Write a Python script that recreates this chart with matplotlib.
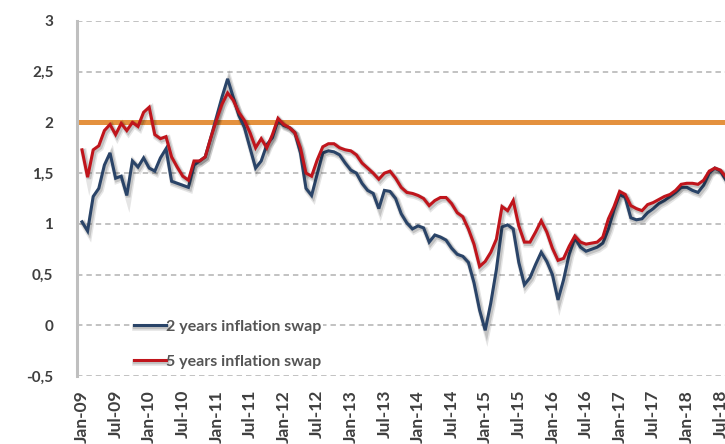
import matplotlib
matplotlib.use("Agg")
import matplotlib.pyplot as plt
import matplotlib.patheffects as pe
import pandas as pd

# Monthly observations, Jan-09 onwards
months = pd.date_range("2009-01-01", periods=116, freq="MS").strftime("%b-%y").tolist()

swap_2y = [
    1.02, 0.93, 1.27, 1.35, 1.58, 1.70, 1.45, 1.47, 1.28, 1.62,
    1.56, 1.65, 1.55, 1.52, 1.65, 1.74, 1.42, 1.40, 1.38, 1.36,
    1.58, 1.62, 1.66, 1.85, 2.05, 2.25, 2.43, 2.25, 2.07, 1.95,
    1.75, 1.55, 1.62, 1.78, 1.85, 2.02, 1.97, 1.95, 1.90, 1.70,
    1.35, 1.28, 1.49, 1.70, 1.72, 1.71, 1.68, 1.60, 1.53, 1.50,
    1.40, 1.33, 1.30, 1.15, 1.33, 1.32, 1.25, 1.10, 1.01, 0.95,
    0.98, 0.96, 0.82, 0.89, 0.87, 0.84, 0.76, 0.70, 0.68, 0.62,
    0.42, 0.15, -0.05, 0.22, 0.55, 0.97, 0.99, 0.95, 0.62, 0.40,
    0.47, 0.60, 0.72, 0.63, 0.50, 0.25, 0.45, 0.70, 0.86, 0.77,
    0.73, 0.75, 0.77, 0.81, 0.95, 1.14, 1.29, 1.26, 1.06, 1.04,
    1.05, 1.11, 1.15, 1.20, 1.23, 1.27, 1.31, 1.36, 1.36, 1.33,
    1.31, 1.38, 1.50, 1.55, 1.52, 1.43,
]

swap_5y = [
    1.73, 1.46, 1.73, 1.77, 1.92, 1.98, 1.88, 1.99, 1.92, 2.00,
    1.96, 2.10, 2.15, 1.88, 1.84, 1.86, 1.66, 1.56, 1.47, 1.43,
    1.62, 1.62, 1.66, 1.85, 2.02, 2.18, 2.29, 2.22, 2.10, 2.02,
    1.90, 1.75, 1.84, 1.75, 1.88, 2.04, 1.98, 1.95, 1.90, 1.75,
    1.50, 1.47, 1.63, 1.76, 1.79, 1.79, 1.75, 1.73, 1.72, 1.68,
    1.60, 1.55, 1.50, 1.44, 1.50, 1.52, 1.45, 1.36, 1.31, 1.30,
    1.28, 1.25, 1.18, 1.23, 1.26, 1.26, 1.20, 1.11, 1.07, 0.95,
    0.80, 0.58, 0.63, 0.72, 0.85, 1.17, 1.13, 1.23, 0.98, 0.82,
    0.82, 0.92, 1.03, 0.92, 0.76, 0.64, 0.66, 0.78, 0.88, 0.82,
    0.80, 0.81, 0.82, 0.87, 1.05, 1.17, 1.32, 1.29, 1.18, 1.15,
    1.13, 1.19, 1.21, 1.24, 1.27, 1.29, 1.33, 1.39, 1.40, 1.40,
    1.39, 1.43, 1.52, 1.55, 1.53, 1.46,
]

target = 2.0
y_ticks = [-0.5, 0, 0.5, 1, 1.5, 2, 2.5, 3]
y_tick_labels = ["-0,5", "0", "0,5", "1", "1,5", "2", "2,5", "3"]

series_names = ["2 years inflation swap", "5 years inflation swap"]
blue = "#2A4468"
red = "#C0151C"
orange = "#E4913E"
grey_text = "#3F3F3F"
families = ["Lato", "DejaVu Sans"]

fig = plt.figure(figsize=(7.25, 4.44), dpi=100)
W, H = 725, 444
left_px, right_px, top_px, bottom_px = 77, 725, 21, 376
ax = fig.add_axes([left_px / W, 1 - bottom_px / H,
                   (right_px - left_px) / W, (bottom_px - top_px) / H])

x = list(range(len(months)))


def shadow_effects():
    return [
        pe.SimpleLineShadow(offset=(1.2, -1.6), shadow_color="#000000", alpha=0.10, linewidth=4.8),
        pe.SimpleLineShadow(offset=(1.0, -1.2), shadow_color="#000000", alpha=0.15, linewidth=3.2),
        pe.Normal(),
    ]


# grid
for v in y_ticks:
    ax.axhline(v, color="#BDBDBD", lw=1.3, ls=(0, (3, 2.2)), zorder=1)

ax.axhline(target, color=orange, lw=3.6, zorder=2, solid_capstyle="butt")

ax.plot(x, swap_2y, color=blue, lw=2.2, zorder=3, label=series_names[0],
        path_effects=shadow_effects(), solid_joinstyle="miter")
ax.plot(x, swap_5y, color=red, lw=2.2, zorder=4, label=series_names[1],
        path_effects=shadow_effects(), solid_joinstyle="miter")

step = (720.4 - 82) / 114
ax.set_xlim(-(82 - left_px) / step, (right_px - 82) / step)
ax.set_ylim(-0.5, 3)

ax.set_yticks(y_ticks)
ax.set_yticklabels(y_tick_labels)
tick_pos = x[::6]
ax.set_xticks(tick_pos)
ax.set_xticklabels([months[i] for i in tick_pos], rotation=90, va="top", ha="center")

for lab in ax.get_yticklabels():
    lab.set_fontsize(11)
    lab.set_fontfamily(families)
    lab.set_fontweight("bold")
    lab.set_color(grey_text)
for lab in ax.get_xticklabels():
    lab.set_fontsize(12.5)
    lab.set_fontfamily(families)
    lab.set_fontweight("bold")
    lab.set_color(grey_text)

ax.tick_params(axis="y", length=0, pad=17)
ax.tick_params(axis="x", length=0, pad=10)

for s in ["top", "right", "bottom"]:
    ax.spines[s].set_visible(False)
ax.spines["left"].set_color("#BFBFBF")
ax.spines["left"].set_linewidth(2.2)
ax.spines["left"].set_zorder(5)

leg = ax.legend(loc="upper left", bbox_to_anchor=(132 / W, 1 - 318 / H),
                bbox_transform=fig.transFigure, frameon=True, fancybox=False,
                facecolor="white", edgecolor="none", framealpha=1,
                borderpad=0.1, borderaxespad=0, handlelength=2.0,
                handletextpad=0.05, labelspacing=1.3,
                prop=dict(family=families, weight="bold", size=11.5))
for t in leg.get_texts():
    t.set_color("#555555")
leg.set_zorder(6)

fig.savefig("out.png", dpi=100)
